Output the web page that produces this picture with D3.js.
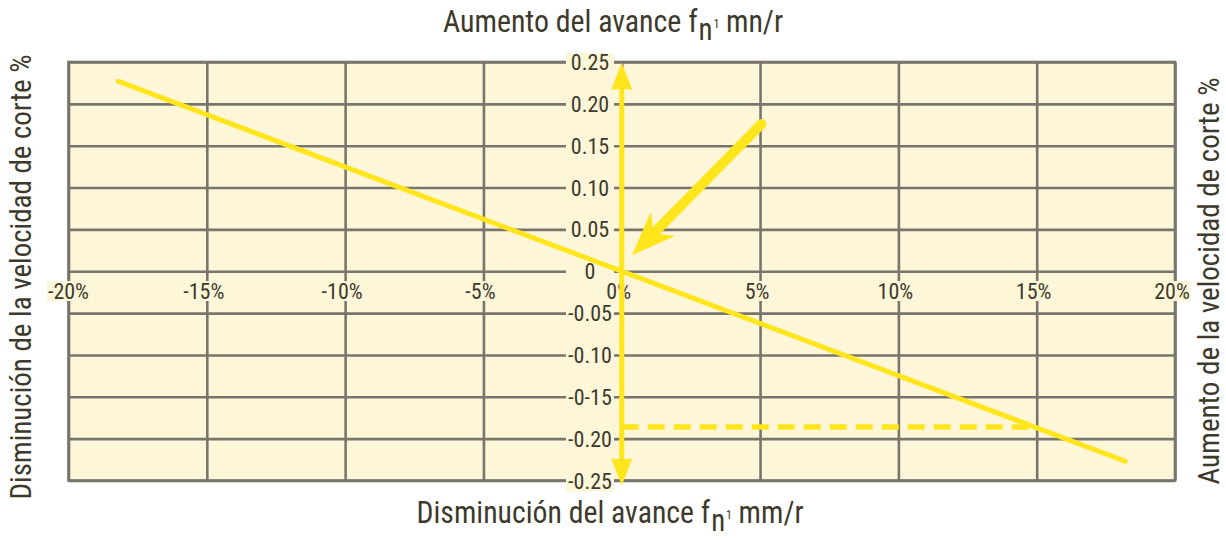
<!DOCTYPE html>
<html><head><meta charset="utf-8">
<script src="https://cdn.jsdelivr.net/npm/d3@7"></script>
<style>
body{margin:0;background:#fff}
text{font-family:"Liberation Sans Narrow","Roboto Condensed","Liberation Sans",sans-serif;fill:#3d3a2c}
</style>
</head><body>
<svg id="c" width="1226" height="540"></svg>
<script>
// ---- data ----
const xTicks = [-20, -15, -10, -5, 0, 5, 10, 15, 20];
const xTickLabels = ["-20%", "-15%", "-10%", "-5%", "0%", "5%", "10%", "15%", "20%"];
const yTicks = [0.25, 0.20, 0.15, 0.10, 0.05, 0, -0.05, -0.10, -0.15, -0.20, -0.25];
const yTickLabels = ["0.25", "0.20", "0.15", "0.10", "0.05", "0", "-0.05", "-0.10", "-0-15", "-0.20", "-0.25"];
const trendX = [-18.2, 18.2];
const trendY = [0.227, -0.227];
const dashX = [0, 15];
const dashY = [-0.186, -0.186];
const axisArrowX = [0, 0];
const axisArrowY = [-0.256, 0.249];
const pointerX = [5.05, 0.37];
const pointerY = [0.176, 0.019];
const titleTop = ["Aumento del avance f", "n", "1", "mn/r"];
const titleBottom = ["Disminución del avance f", "n", "1", "mm/r"];
const titleLeft = "Disminución de la velocidad de corte %";
const titleRight = "Aumento de la velocidad de corte %";

// ---- styles ----
const CREAM = "#fdf6d8", GRID = "#78756c", YEL = "#ffe51c";

const svg = d3.select("#c");
const x = d3.scaleLinear().domain([-20, 20]).range([68.5, 1175]);
const y = d3.scaleLinear().domain([-0.25, 0.25]).range([480.5, 62]);
const [x0, x1] = x.range(), [yb, yt] = y.range();

svg.append("rect").attr("x", x0).attr("y", yt).attr("width", x1 - x0).attr("height", yb - yt).attr("fill", CREAM);

// grid via axes
const gx = svg.append("g").attr("transform", `translate(0,${yb})`)
  .call(d3.axisBottom(x).tickValues(xTicks).tickSize(-(yb - yt)).tickFormat(""));
const gy = svg.append("g").attr("transform", `translate(${x0},0)`)
  .call(d3.axisLeft(y).tickValues(yTicks).tickSize(-(x1 - x0)).tickFormat(""));
[gx, gy].forEach(g => {
  g.select(".domain").remove();
  g.selectAll(".tick line").attr("stroke", GRID).attr("stroke-width", 2.6);
});
svg.append("rect").attr("x", x0).attr("y", yt).attr("width", x1 - x0).attr("height", yb - yt)
  .attr("fill", "none").attr("stroke", GRID).attr("stroke-width", 2.6);

// y tick labels with background
const yl = svg.append("g");
yTicks.forEach((v, i) => {
  const ty = y(v);
  yl.append("rect").attr("x", 566).attr("y", ty - 9).attr("width", 48).attr("height", 20).attr("fill", CREAM);
  yl.append("text").attr("x", 590).attr("y", ty + 8).attr("text-anchor", "middle")
    .attr("font-size", 22).text(yTickLabels[i]);
});
// x tick labels with background
const xl = svg.append("g");
xTicks.forEach((v, i) => {
  const t = xl.append("text").attr("x", x(v) - (v === -20 ? 0 : 3)).attr("y", 299).attr("text-anchor", "middle")
    .attr("font-size", 22).text(xTickLabels[i]);
  const b = t.node().getBBox();
  xl.insert("rect", "text").attr("x", b.x - 1).attr("y", 281).attr("width", b.width + 2).attr("height", 20).attr("fill", CREAM);
});
xl.selectAll("rect").lower();

// titles
function richTitle(parts, cx, by, len) {
  const t = svg.append("text").attr("x", cx).attr("y", by).attr("text-anchor", "middle").attr("font-size", 32);
  t.append("tspan").text(parts[0]);
  t.append("tspan").attr("dx", 1).attr("dy", 8).attr("font-size", 31).text(parts[1]);
  t.append("tspan").attr("dx", 1).attr("dy", -12).attr("font-size", 13).text(parts[2]);
  t.append("tspan").attr("dx", 7).attr("dy", 4).text(parts[3]);
  t.attr("textLength", len).attr("lengthAdjust", "spacingAndGlyphs");
  return t;
}
richTitle(titleTop, 613, 32, 340);
richTitle(titleBottom, 610, 523, 387);

svg.append("text").attr("transform", "translate(31,277) rotate(-90)").attr("text-anchor", "middle")
  .attr("font-size", 30).attr("textLength", 445).attr("lengthAdjust", "spacingAndGlyphs").text(titleLeft);
svg.append("text").attr("transform", "translate(1219,281) rotate(-90)").attr("text-anchor", "middle")
  .attr("font-size", 29).attr("textLength", 407).attr("lengthAdjust", "spacingAndGlyphs").text(titleRight);

// yellow marks
const line = d3.line().x(d => x(d[0])).y(d => y(d[1]));
const zip = (a, b) => a.map((v, i) => [v, b[i]]);

svg.append("path").attr("d", line(zip(trendX, trendY))).attr("stroke", YEL).attr("stroke-width", 5)
  .attr("stroke-linecap", "round").attr("fill", "none");
svg.append("path").attr("d", line(zip(dashX, dashY))).attr("stroke", YEL).attr("stroke-width", 5.5)
  .attr("stroke-dasharray", "17,9").attr("fill", "none");

function head(tip, from, len, hw, notch) {
  const dx = tip[0] - from[0], dy = tip[1] - from[1], L = Math.hypot(dx, dy);
  const ux = dx / L, uy = dy / L, px = -uy, py = ux;
  const bx = tip[0] - ux * len, by = tip[1] - uy * len;
  const nx = tip[0] - ux * notch, ny = tip[1] - uy * notch;
  return { pts: [[tip[0], tip[1]], [bx + px * hw, by + py * hw], [nx, ny], [bx - px * hw, by - py * hw]], neck: [nx, ny] };
}

// vertical double arrow
const va = zip(axisArrowX, axisArrowY).map(d => [x(d[0]), y(d[1])]);
const hDown = head(va[0], va[1], 27, 10.5, 26);
const hUp = head(va[1], va[0], 27, 10.5, 26);
svg.append("path").attr("d", d3.line()([hDown.neck, hUp.neck])).attr("stroke", YEL).attr("stroke-width", 5);
[hDown, hUp].forEach(h => svg.append("polygon").attr("points", h.pts.map(p => p.join(",")).join(" ")).attr("fill", YEL));

// diagonal pointer arrow
const pa = zip(pointerX, pointerY).map(d => [x(d[0]), y(d[1])]);
const hp = head(pa[1], pa[0], 44, 17, 31);
svg.append("path").attr("d", d3.line()([pa[0], hp.neck])).attr("stroke", YEL).attr("stroke-width", 10)
  .attr("stroke-linecap", "round").attr("fill", "none");
svg.append("polygon").attr("points", hp.pts.map(p => p.join(",")).join(" ")).attr("fill", YEL);
</script>
</body></html>
